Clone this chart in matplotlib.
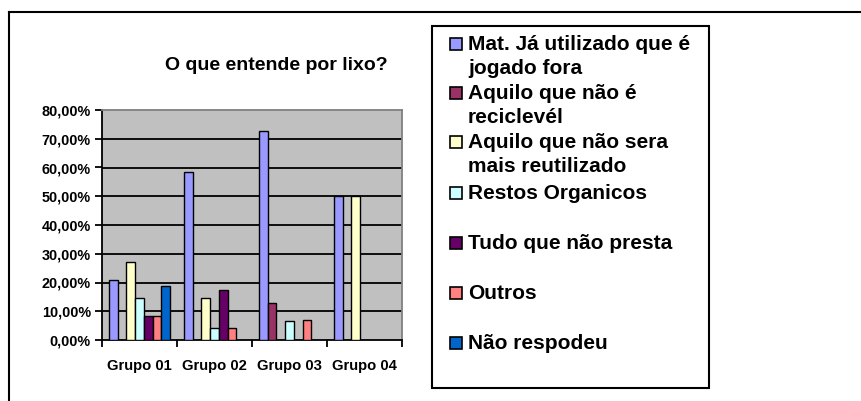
import matplotlib.pyplot as plt
import numpy as np
from matplotlib.patches import Rectangle
from matplotlib.lines import Line2D

plt.rcParams['font.family'] = ['Liberation Sans', 'DejaVu Sans']
plt.rcParams['font.weight'] = 'bold'

# data (fractions)
groups = ["Grupo 01", "Grupo 02", "Grupo 03", "Grupo 04"]
series_names = [
    "Mat. Já utilizado que é\njogado fora",
    "Aquilo que não é\nreciclevél",
    "Aquilo que não sera\nmais reutilizado",
    "Restos Organicos",
    "Tudo que não presta",
    "Outros",
    "Não respodeu",
]
mat_usado = [0.208, 0.583, 0.727, 0.50]
nao_reciclavel = [0.0, 0.0, 0.129, 0.0]
nao_reutilizado = [0.271, 0.146, 0.0, 0.50]
restos = [0.146, 0.042, 0.066, 0.0]
nao_presta = [0.083, 0.174, 0.0, 0.0]
outros = [0.083, 0.042, 0.068, 0.0]
nao_respondeu = [0.1875, 0.0, 0.0, 0.0]
values = [mat_usado, nao_reciclavel, nao_reutilizado, restos, nao_presta, outros, nao_respondeu]
colors = ["#9999FF", "#993366", "#FFFFCC", "#CCFFFF", "#660066", "#FF8080", "#0066CC"]

W, H = 861, 401
fig = plt.figure(figsize=(W / 100, H / 100), dpi=100)

def fx(px):
    return px / W

def fy(py):
    return 1 - py / H

# outer frame (top and left only visible)
fig.add_artist(Line2D([fx(9), fx(861)], [fy(12), fy(12)], color="black", lw=1.5))
fig.add_artist(Line2D([fx(9), fx(9)], [fy(12), fy(401)], color="black", lw=1.5))

ax = fig.add_axes([fx(102), fy(340), fx(300), (340 - 110) / H])
ax.set_facecolor("#C0C0C0")

slot = 0.116
x = np.arange(len(groups))
for j, (vals, c) in enumerate(zip(values, colors)):
    vals = np.array(vals)
    mask = vals > 0
    ax.bar(x[mask] + (j - 3) * slot, vals[mask], width=slot, color=c,
           edgecolor="black", linewidth=1.0, zorder=3)

ax.set_xlim(-0.5, 3.5)
ax.set_ylim(0, 0.8)
ax.set_yticks(np.arange(0, 0.81, 0.1))
ax.set_yticklabels([f"{v * 100:.2f}%".replace(".", ",") for v in np.arange(0, 0.81, 0.1)],
                   fontsize=10.4, fontweight="bold")
for v in np.arange(0.1, 0.75, 0.1):
    ax.axhline(v, color="black", lw=1.3, zorder=1)

ax.set_xticks(np.arange(-0.5, 4, 1))
ax.set_xticklabels([])
ax.set_xticks(x, minor=True)
ax.set_xticklabels(groups, minor=True, fontsize=10.6, fontweight="bold")
ax.tick_params(axis="x", which="major", length=5, width=1.3, direction="out")
ax.tick_params(axis="x", which="minor", length=0, pad=14)
ax.tick_params(axis="y", length=5, width=1.3, direction="out", pad=3)

for s in ["left", "bottom"]:
    ax.spines[s].set_color("black")
    ax.spines[s].set_linewidth(1.3)
for s in ["top", "right"]:
    ax.spines[s].set_color("#808080")
    ax.spines[s].set_linewidth(1.3)

fig.text(fx(276), fy(66), "O que entende por lixo?", ha="center", va="center",
         fontsize=14, fontweight="bold")

# legend box drawn by hand to keep Excel's spacing
fig.add_artist(Rectangle((fx(432), fy(388)), fx(709 - 432), (388 - 26) / H,
                         facecolor="white", edgecolor="black", lw=1.5))
entry_y = [44, 93, 142, 193, 243, 293, 343]
for name, c, ey in zip(series_names, colors, entry_y):
    fig.add_artist(Rectangle((fx(450), fy(ey + 6)), fx(12), 12 / H,
                             facecolor=c, edgecolor="black", lw=1.2))
    fig.text(fx(468), fy(ey - 9), name, ha="left", va="top", fontsize=15,
             fontweight="bold", linespacing=1.34)

fig.savefig("out.png", dpi=100)
